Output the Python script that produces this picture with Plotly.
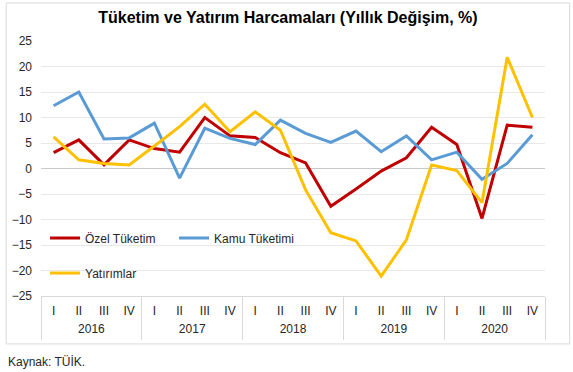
import plotly.graph_objects as go

years = ["2016"] * 4 + ["2017"] * 4 + ["2018"] * 4 + ["2019"] * 4 + ["2020"] * 4
quarters = ["I", "II", "III", "IV"] * 5

ozel_tuketim = [3.1, 5.6, 0.7, 5.6, 3.9, 3.2, 10.0, 6.4, 6.1, 3.1, 1.1, -7.4,
                -4.0, -0.5, 2.1, 8.1, 4.7, -9.8, 8.5, 8.1]
kamu_tuketimi = [12.3, 15.0, 5.8, 6.0, 8.9, -1.9, 7.9, 5.9, 4.7, 9.5, 6.9, 5.1,
                 7.35, 3.3, 6.4, 1.7, 3.2, -2.1, 1.0, 6.6]
yatirimlar = [6.2, 1.7, 1.0, 0.7, 4.4, 8.2, 12.6, 7.2, 11.1, 7.5, -4.2, -12.6,
              -14.2, -21.1, -14.0, 0.7, -0.4, -6.7, 21.8, 10.0]

y_ticks = [-25, -20, -15, -10, -5, 0, 5, 10, 15, 20, 25]

# positions derived from the category lists
idx = list(range(len(quarters)))
year_labels = list(dict.fromkeys(years))
year_centers = [sum(i for i, yv in enumerate(years) if yv == y) / years.count(y) for y in year_labels]
year_bounds = [-0.5] + [i + 0.5 for i in range(len(years) - 1) if years[i] != years[i + 1]] + [len(years) - 0.5]
xrange_ = [-0.5, len(quarters) - 0.5]

FONT = "Liberation Sans, Arial, sans-serif"
TXT = "#262626"

fig = go.Figure()
fig.add_trace(go.Scatter(x=idx, y=ozel_tuketim, mode="lines",
                         name="Özel Tüketim", line=dict(color="#C00000", width=3),
                         legend="legend"))
fig.add_trace(go.Scatter(x=idx, y=kamu_tuketimi, mode="lines",
                         name="Kamu Tüketimi", line=dict(color="#5B9BD5", width=3),
                         legend="legend"))
fig.add_trace(go.Scatter(x=idx, y=yatirimlar, mode="lines",
                         name="Yatırımlar", line=dict(color="#FFC000", width=3),
                         legend="legend2"))
# invisible helper traces so the year-label and divider axes are drawn
for ax in ("x2", "x3"):
    fig.add_trace(go.Scatter(x=idx, y=ozel_tuketim, xaxis=ax, mode="lines",
                             line=dict(width=0), opacity=0, showlegend=False,
                             hoverinfo="skip"))

fig.update_layout(
    width=573, height=372,
    margin=dict(l=38, r=28, t=41, b=76),
    paper_bgcolor="white", plot_bgcolor="white",
    font=dict(family=FONT, size=12, color=TXT),
    title=dict(text="<b>Tüketim ve Yatırım Harcamaları (Yıllık Değişim, %)</b>",
               x=0.49, xref="paper", xanchor="center", y=0.954, yanchor="middle",
               font=dict(family=FONT, size=16, color="#000000")),
    showlegend=True,
    legend=dict(orientation="h", x=0.008, xanchor="left", y=0.2275, yanchor="middle",
                entrywidth=84, entrywidthmode="pixels",
                bgcolor="rgba(0,0,0,0)", font=dict(family=FONT, size=12, color=TXT)),
    legend2=dict(orientation="h", x=0.008, xanchor="left", y=0.09, yanchor="middle",
                 bgcolor="rgba(0,0,0,0)", font=dict(family=FONT, size=12, color=TXT)),
    xaxis=dict(range=xrange_, tickvals=idx, ticktext=quarters, showgrid=False,
               showline=True, linecolor="#d9d9d9", linewidth=1, ticks="",
               ticklabelstandoff=4, zeroline=False,
               tickfont=dict(family=FONT, size=12, color=TXT)),
    xaxis2=dict(range=xrange_, overlaying="x", anchor="y", side="bottom",
                tickvals=year_centers, ticktext=year_labels, showgrid=False,
                showline=False, ticks="", ticklabelstandoff=24, zeroline=False,
                tickfont=dict(family=FONT, size=12, color=TXT)),
    xaxis3=dict(range=xrange_, overlaying="x", anchor="y", side="bottom",
                tickvals=year_bounds, showticklabels=False, showgrid=False,
                showline=False, ticks="outside", ticklen=43, tickwidth=1,
                tickcolor="#d9d9d9", zeroline=False),
    yaxis=dict(range=[-25, 25], tickvals=y_ticks, showgrid=True, gridcolor="#e8e8e8",
               gridwidth=1, zeroline=True, zerolinecolor="#c8c8c8", zerolinewidth=1,
               showline=False, ticks="", ticklabelstandoff=8,
               tickfont=dict(family=FONT, size=12, color=TXT)),
    shapes=[dict(type="rect", xref="paper", yref="paper",
                 x0=-0.069, x1=1.049, y0=-0.188, y1=1.149,
                 line=dict(color="#d9d9d9", width=1), fillcolor="rgba(0,0,0,0)",
                 layer="below")],
    annotations=[dict(text="Kaynak: TÜİK.", xref="paper", yref="paper",
                      x=-0.069, y=-0.259, xanchor="left", yanchor="middle",
                      showarrow=False, font=dict(family=FONT, size=12, color=TXT))],
)

fig.write_html("out.html", config={"displayModeBar": False},
               post_script="document.body.style.margin='0px';")
